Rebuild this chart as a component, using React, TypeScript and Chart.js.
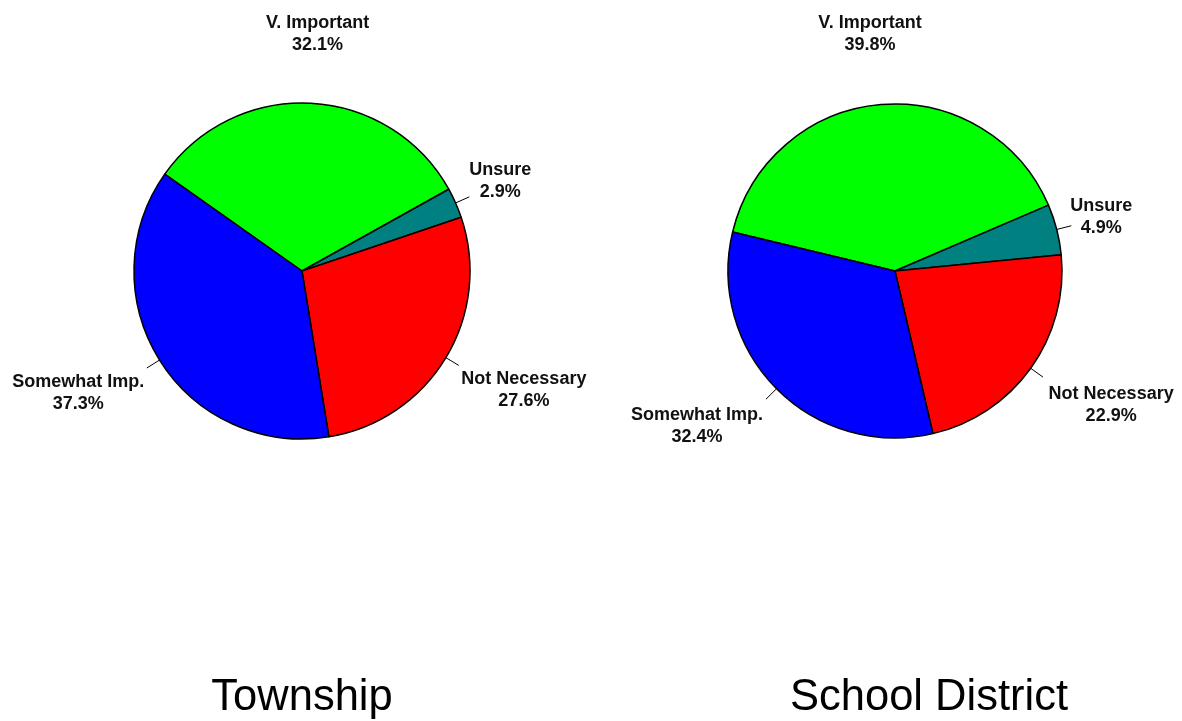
import React, { useEffect, useRef } from "react";
import { Chart, registerables } from "chart.js";

Chart.register(...registerables);

const categories = ["V. Important", "Unsure", "Not Necessary", "Somewhat Imp."];
const townshipValues = [32.1, 2.9, 27.6, 37.3];
const schoolValues = [39.8, 4.9, 22.9, 32.4];
const sliceColors = ["#00FF00", "#008080", "#FF0000", "#0000FF"];
const chartTitles = ["Township", "School District"];

const FONT = "'Liberation Sans', Arial, Helvetica, sans-serif";

type Panel = {
  title: string;
  values: number[];
  left: number;
  width: number;
  radius: number;
  cx: number;
  cy: number;
  rotation: number;
  gaps: number[];
  titleX: number;
  titleY: number;
};

const panels: Panel[] = [
  {
    title: chartTitles[0],
    values: townshipValues,
    left: 0,
    width: 600,
    radius: 168,
    cx: 302,
    cy: 271,
    rotation: -54.8,
    gaps: [49, 15, 18, 18],
    titleX: 302,
    titleY: 710,
  },
  {
    title: chartTitles[1],
    values: schoolValues,
    left: 600,
    width: 582,
    radius: 167,
    cx: 295,
    cy: 271,
    rotation: -76.5,
    gaps: [50, 14, 22, 19],
    titleX: 329,
    titleY: 710,
  },
];

const HEIGHT = 721;

const outsideLabels = {
  id: "outsideLabels",
  afterDraw(chart: any, _args: any, opts: any) {
    const ctx = chart.ctx as CanvasRenderingContext2D;
    const meta = chart.getDatasetMeta(0);
    const values = chart.data.datasets[0].data as number[];
    ctx.save();
    ctx.font = `bold 18px ${FONT}`;
    ctx.fillStyle = "#111";
    ctx.strokeStyle = "#000";
    ctx.lineWidth = 1;
    ctx.textAlign = "center";
    ctx.textBaseline = "alphabetic";
    const clamp = (v: number) => Math.max(-1, Math.min(1, v));
    meta.data.forEach((arc: any, i: number) => {
      const p = arc.getProps(["x", "y", "startAngle", "endAngle", "outerRadius"], true);
      const mid = (p.startAngle + p.endAngle) / 2;
      const ux = Math.cos(mid);
      const uy = Math.sin(mid);
      const r = p.outerRadius;
      if (i !== 0) {
        ctx.beginPath();
        ctx.moveTo(p.x + r * ux, p.y + r * uy);
        ctx.lineTo(p.x + (r + 15) * ux, p.y + (r + 15) * uy);
        ctx.stroke();
      }
      const gap = opts.gaps[i];
      const px = p.x + (r + gap) * ux;
      const py = p.y + (r + gap) * uy;
      const lines = [String(chart.data.labels[i]), values[i].toFixed(1) + "%"];
      const w = Math.max(...lines.map((l) => ctx.measureText(l).width));
      const h = 44;
      const bx = px + (clamp(ux * 1.5) * w) / 2;
      const by = py + (clamp(uy * 2) * h) / 2;
      ctx.fillText(lines[0], bx, by - 11 + 6.5);
      ctx.fillText(lines[1], bx, by + 11 + 6.5);
    });
    ctx.font = `43.5px ${FONT}`;
    ctx.fillStyle = "#000";
    ctx.fillText(opts.title, opts.titleX, opts.titleY);
    ctx.restore();
  },
};

function PieCanvas({ panel }: { panel: Panel }) {
  const ref = useRef<HTMLCanvasElement | null>(null);
  useEffect(() => {
    if (!ref.current) return;
    const chart = new Chart(ref.current, {
      type: "pie",
      data: {
        labels: categories,
        datasets: [
          {
            data: panel.values,
            backgroundColor: sliceColors,
            borderColor: "#000",
            borderWidth: 1.5,
          },
        ],
      },
      options: {
        animation: false,
        responsive: true,
        maintainAspectRatio: false,
        rotation: panel.rotation,
        radius: panel.radius,
        layout: {
          padding: {
            left: panel.cx - panel.radius,
            right: panel.width - panel.cx - panel.radius,
            top: panel.cy - panel.radius,
            bottom: HEIGHT - panel.cy - panel.radius,
          },
        },
        plugins: {
          legend: { display: false },
          tooltip: { enabled: false },
          title: { display: false },
          outsideLabels: {
            gaps: panel.gaps,
            title: panel.title,
            titleX: panel.titleX,
            titleY: panel.titleY,
          },
        } as any,
      },
      plugins: [outsideLabels],
    });
    return () => chart.destroy();
  }, [panel]);
  return (
    <div
      style={{
        position: "absolute",
        left: panel.left,
        top: 0,
        width: panel.width,
        height: HEIGHT,
      }}
    >
      <canvas ref={ref} />
    </div>
  );
}

export default function App() {
  return (
    <div
      style={{
        position: "fixed",
        left: 0,
        top: 0,
        width: 1182,
        height: HEIGHT,
        background: "#fff",
        overflow: "hidden",
      }}
    >
      {panels.map((p) => (
        <PieCanvas key={p.title} panel={p} />
      ))}
    </div>
  );
}
